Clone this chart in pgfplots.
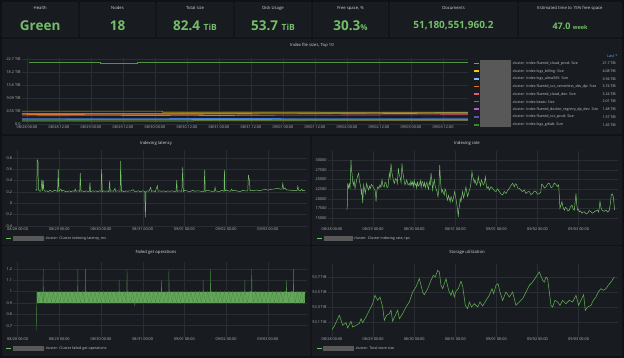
\documentclass[border=0pt]{standalone}
\usepackage{fontspec}
\setmainfont{Open Sans}
\usepackage{pgfplots}
\pgfplotsset{compat=1.18}
\definecolor{bgc}{HTML}{111217}
\definecolor{panelc}{HTML}{181B1F}
\definecolor{borderc}{HTML}{24272E}
\definecolor{gridc}{HTML}{2A2D33}
\definecolor{tickc}{HTML}{B4B6BC}
\definecolor{titlec}{HTML}{D8D9DA}
\definecolor{legc}{HTML}{C4C6CE}
\definecolor{gval}{HTML}{73BF69}
\definecolor{gdark}{HTML}{4A8A42}
\definecolor{redact}{HTML}{585858}
\definecolor{lastc}{HTML}{6E9FFF}
\definecolor{cgreen}{HTML}{5FAE52}
\definecolor{cyellow}{HTML}{F2CC0C}
\definecolor{clblue}{HTML}{8AB8FF}
\definecolor{corange}{HTML}{E0752D}
\definecolor{cred}{HTML}{E35C6B}
\definecolor{cblue}{HTML}{3F78D8}
\definecolor{cpurple}{HTML}{B062C9}
\definecolor{cindigo}{HTML}{6350A8}
\definecolor{cdgreen}{HTML}{37872D}
\definecolor{colive}{HTML}{A89A2A}
\newcommand\fs[1]{\fontsize{#1}{#1}\selectfont}
\pgfplotsset{
  gpanel/.style={scale only axis, axis line style={draw=none}, major tick length=0pt,
    xmajorgrids, ymajorgrids, grid style={gridc,line width=0.35pt},
    scaled y ticks=false, scaled x ticks=false,
    tick label style={font=\fs{3.8}, text=tickc}, xticklabel style={inner sep=1pt},
    yticklabel style={inner sep=1.2pt}, clip=true, anchor=south west},
  daysx/.style={xmin=-0.1, xmax=6.95, xtick={0,1,2,3,4,5,6},
    xticklabels={08/28 00:00,08/29 00:00,08/30 00:00,08/31 00:00,09/01 00:00,09/02 00:00,09/03 00:00}},
}
\newcommand\panel[4]{\fill[panelc,draw=borderc,line width=0.4pt,rounded corners=1.5pt] (#1pt,-#2pt) rectangle (#3pt,-#4pt);}
\begin{document}
\begin{tikzpicture}
\fill[bgc] (0pt,0pt) rectangle (624pt,-358pt);
\useasboundingbox (0pt,0pt) rectangle (624pt,-358pt);
% stat panels
\panel{2.5}{2.5}{78}{37}
\panel{80}{2.5}{155}{37}
\panel{157}{2.5}{233}{37}
\panel{235}{2.5}{311}{37}
\panel{313}{2.5}{388}{37}
\panel{390}{2.5}{517}{37}
\panel{519}{2.5}{621.5}{37}
\node[font=\fs{4.2},text=titlec] at (40.2pt,-8pt) {Health};
\node[font=\fs{4.2},text=titlec] at (117.5pt,-8pt) {Nodes};
\node[font=\fs{4.2},text=titlec] at (195pt,-8pt) {Total size};
\node[font=\fs{4.2},text=titlec] at (273pt,-8pt) {Disk Usage};
\node[font=\fs{4.2},text=titlec] at (350.5pt,-8pt) {Free space, \%};
\node[font=\fs{4.2},text=titlec] at (453.5pt,-8pt) {Documents};
\node[font=\fs{4.2},text=titlec] at (570pt,-8pt) {Estimated time to 15\% free space};
\node[anchor=base,text=gval,font=\fs{13.5}\bfseries] at (40.2pt,-30.7pt) {Green};
\node[anchor=base,text=gval,font=\fs{13.5}\bfseries] at (117.5pt,-30.7pt) {18};
\node[anchor=base,text=gval,font=\fs{13.5}\bfseries] at (195pt,-30.7pt) {82.4 {\fs{8.5}TiB}};
\node[anchor=base,text=gval,font=\fs{13.5}\bfseries] at (273pt,-30.7pt) {53.7 {\fs{8.5}TiB}};
\node[anchor=base,text=gval,font=\fs{13.5}\bfseries] at (350.5pt,-30.7pt) {30.3{\fs{8}\%}};
\node[anchor=base,text=gval,font=\fs{10}\bfseries] at (453.5pt,-28.4pt) {51,180,551,960.2};
\node[anchor=base,text=gval,font=\fs{9}\bfseries] at (570pt,-29.3pt) {47.0 {\fs{5.5}week}};
% big panels
\panel{2.5}{39}{621.5}{134}
\panel{2.5}{136.5}{310}{244.5}
\panel{312}{136.5}{621.5}{244.5}
\panel{2.5}{246.5}{310}{355.5}
\panel{312}{246.5}{621.5}{355.5}
\node[font=\fs{4.2},text=titlec] at (312pt,-45.3pt) {Index file sizes, Top 10};
\node[font=\fs{4.2},text=titlec] at (156pt,-143.5pt) {Indexing latency};
\node[font=\fs{4.2},text=titlec] at (467pt,-143.5pt) {Indexing rate};
\node[font=\fs{4.2},text=titlec] at (156pt,-252.3pt) {Failed get operations};
\node[font=\fs{4.2},text=titlec] at (467pt,-252.3pt) {Storage utilization};
% ---------- top panel
\begin{axis}[gpanel, at={(22pt,-125pt)}, width=446pt, height=66.7pt,
  xmin=-0.078, xmax=6.89, ymin=-0.35, ymax=22.97,
  xtick={0,0.5,...,6.5},
  xticklabels={08/28 00:00,08/28 12:00,08/29 00:00,08/29 12:00,08/30 00:00,08/30 12:00,08/31 00:00,08/31 12:00,09/01 00:00,09/01 12:00,09/02 00:00,09/02 12:00,09/03 00:00,09/03 12:00},
  ytick={0,4.547,9.094,13.64,18.19,22.74},
  yticklabels={0.0,4.55 TiB,9.09 TiB,13.6 TiB,18.2 TiB,22.7 TiB}]
\addplot[colive,line width=0.6pt] coordinates {(-0.08,1.05)(2.6,1.05)(2.6,1.12)(6.89,1.2)};
\addplot[cdgreen,line width=0.6pt] coordinates {(-0.08,1.3)(3.0,1.38)(6.89,1.45)};
\addplot[cindigo,line width=0.6pt] coordinates {(-0.08,1.5)(3.5,1.53)(6.89,1.57)};
\addplot[cpurple,line width=0.6pt] coordinates {(-0.08,1.72)(1.5,1.62)(4.0,1.55)(6.89,1.48)};
\addplot[cblue,line width=0.6pt] coordinates {(-0.08,1.85)(2.0,1.9)(4.5,1.95)(6.89,2.01)};
\addplot[cred,line width=0.6pt] coordinates {(-0.08,2.85)(1.4,2.95)(2.5,3.0)(3.3,2.95)(3.3,3.05)(4.4,3.1)(6.89,3.24)};
\addplot[corange,line width=0.6pt] coordinates {(-0.08,3.3)(2.5,3.4)(4.0,3.55)(6.89,3.74)};
\addplot[clblue,line width=0.6pt] coordinates {(-0.08,3.7)(3.0,3.75)(6.89,3.94)};
\addplot[cyellow!75!black,line width=0.6pt] coordinates {(-0.08,4.5)(2.12,4.5)(2.12,4.1)(6.89,4.08)};
\addplot[cgreen!85!black,line width=0.6pt] coordinates {(0.03,21.6)(1.14,21.6)(1.14,21.3)(1.72,21.3)(1.72,21.7)(2.12,21.7)(2.12,21.45)(6.89,21.45)};
\end{axis}
% top legend
\fill[redact] (480pt,-60pt) rectangle (511pt,-127pt);
\node[anchor=east,font=\fs{3.8},text=lastc] at (621pt,-55.7pt) {Last *};
\foreach \yy/\cc/\tt/\vv in {63.7/cgreen/fluentd\_cloud\_prod/21.7,71.3/cyellow/logs\_billing/4.08,79/clblue/logs\_alma365/3.94,86.7/corange/fluentd\_svc\_serverless\_dev\_dp/3.74,94/cred/fluentd\_cloud\_dev/3.24,101.7/cblue/beats/2.01,109.3/cpurple/fluentd\_docker\_registry\_dp\_dev/1.48,117/cindigo/fluentd\_svc\_prod/1.57,125/cdgreen/logs\_gitlab/1.45}{
  \fill[\cc] (474.3pt,-\yy pt+0.8pt) rectangle (478.5pt,-\yy pt-0.8pt);
  \node[anchor=west,font=\fs{3.6},text=legc,inner sep=0pt] at (511.5pt,-\yy pt) {-cluster: Index \tt: Size};
  \node[anchor=east,font=\fs{3.6},text=legc,inner sep=0pt] at (616pt,-\yy pt) {\vv\ TiB};
}
% ---------- latency
\begin{axis}[gpanel, daysx, at={(13.4pt,-226.5pt)}, width=294pt, height=76.5pt,
  ymin=-0.41, ymax=0.94, ytick={-0.4,-0.2,0,0.2,0.4,0.6,0.8},
  yticklabels={-0.4,-0.2,0,0.2,0.4,0.6,0.8}]
\addplot[gval,line width=0.5pt] coordinates {
(0.43,0.24)(0.46,0.23)(0.472,0.765)(0.49,0.74)(0.50,0.24)(0.512,0.23)(0.54,0.21)(0.56,0.22)(0.584,0.42)(0.60,0.22)(0.616,0.40)(0.63,0.23)(0.66,0.21)(0.70,0.22)(0.74,0.20)(0.78,0.23)(0.82,0.21)(0.85,0.21)(0.88,0.23)(0.92,0.22)(0.96,0.21)(0.976,0.60)(0.99,0.21)(1.02,0.23)(1.04,0.25)(1.06,0.21)(1.09,0.23)(1.12,0.22)(1.16,0.20)(1.20,0.21)(1.24,0.22)(1.28,0.20)(1.32,0.22)(1.36,0.21)(1.384,0.25)(1.40,0.21)(1.45,0.22)(1.49,0.21)(1.504,0.53)(1.52,0.21)(1.56,0.22)(1.60,0.20)(1.64,0.22)(1.68,0.21)(1.72,0.21)(1.736,0.365)(1.75,0.20)(1.80,0.22)(1.84,0.21)(1.88,0.22)(1.92,0.20)(1.96,0.22)(2.00,0.21)(2.016,0.60)(2.03,0.20)(2.06,0.22)(2.10,0.21)(2.15,0.22)(2.19,0.20)(2.208,0.395)(2.22,0.21)(2.26,0.22)(2.30,0.21)(2.336,0.265)(2.35,0.21)(2.40,0.22)(2.46,0.21)(2.472,0.75)(2.49,0.21)(2.52,0.22)(2.56,0.20)(2.60,0.22)(2.64,0.21)(2.68,0.22)(2.72,0.22)(2.776,0.24)(2.80,0.21)(2.85,0.21)(2.90,0.22)(2.95,0.20)(3.00,0.22)(3.05,0.21)(3.064,-0.25)(3.08,0.21)(3.12,0.22)(3.15,0.21)(3.192,0.28)(3.21,0.21)(3.25,0.22)(3.30,0.20)(3.352,0.31)(3.37,0.21)(3.41,0.22)(3.45,0.21)(3.50,0.22)(3.55,0.20)(3.60,0.22)(3.65,0.21)(3.70,0.22)(3.75,0.21)(3.80,0.21)(3.816,0.41)(3.83,0.21)(3.88,0.22)(3.94,0.21)(3.96,0.635)(3.975,0.21)(4.01,0.23)(4.05,0.22)(4.10,0.21)(4.15,0.21)(4.20,0.23)(4.25,0.21)(4.30,0.22)(4.35,0.22)(4.40,0.21)(4.47,0.21)(4.488,0.59)(4.50,0.21)(4.55,0.23)(4.60,0.22)(4.66,0.21)(4.72,0.21)(4.736,0.28)(4.75,0.22)(4.80,0.21)(4.85,0.21)(4.90,0.23)(4.95,0.21)(4.96,0.59)(4.975,0.22)(5.01,0.23)(5.05,0.22)(5.10,0.21)(5.136,0.25)(5.15,0.22)(5.20,0.23)(5.25,0.22)(5.30,0.21)(5.35,0.21)(5.40,0.23)(5.45,0.22)(5.52,0.22)(5.536,0.50)(5.55,0.43)(5.56,0.42)(5.575,0.22)(5.61,0.23)(5.65,0.22)(5.70,0.23)(5.75,0.23)(5.80,0.22)(5.85,0.23)(5.90,0.24)(5.976,0.24)(6.01,0.23)(6.05,0.24)(6.10,0.25)(6.15,0.25)(6.20,0.26)(6.25,0.26)(6.30,0.25)(6.34,0.25)(6.36,0.35)(6.38,0.25)(6.416,0.27)(6.44,0.24)(6.50,0.23)(6.55,0.23)(6.60,0.22)(6.65,0.23)(6.70,0.22)(6.72,0.30)(6.74,0.23)(6.78,0.22)(6.816,0.25)(6.84,0.22)(6.87,0.23)(6.896,0.22)};
\end{axis}
% ---------- rate
\begin{axis}[gpanel, daysx, at={(327.9pt,-226.5pt)}, width=289.7pt, height=75.8pt,
  ymin=12900, ymax=32400, ytick={15000,17500,20000,22500,25000,27500,30000},
  yticklabels={15000,17500,20000,22500,25000,27500,30000}]
\addplot[gval,line width=0.5pt] coordinates {
(0.357,17300)(0.37,17500)(0.381,24000)(0.40,22800)(0.422,23900)(0.44,22600)(0.462,30000)(0.475,27200)(0.487,26600)(0.50,24800)(0.519,23600)(0.54,24600)(0.560,22700)(0.58,23800)(0.600,24900)(0.62,25800)(0.649,26600)(0.665,24600)(0.681,24000)(0.70,23000)(0.714,21400)(0.73,22400)(0.746,18900)(0.76,21500)(0.770,23600)(0.79,22600)(0.811,21400)(0.83,23000)(0.843,24000)(0.87,22800)(0.892,22300)(0.91,23300)(0.933,22700)(0.96,23700)(0.989,23300)(1.02,22700)(1.046,22300)(1.06,21400)(1.071,19300)(1.09,22000)(1.111,23100)(1.14,22700)(1.168,23600)(1.19,23000)(1.217,24900)(1.24,23400)(1.273,23100)(1.29,24300)(1.314,24000)(1.34,22900)(1.363,23100)(1.38,25000)(1.395,26600)(1.415,25400)(1.436,29100)(1.455,26900)(1.476,25700)(1.50,24500)(1.517,24000)(1.545,25200)(1.573,24900)(1.59,24000)(1.614,27900)(1.635,26200)(1.654,25700)(1.68,24200)(1.703,29100)(1.72,27000)(1.736,26100)(1.756,24700)(1.776,23600)(1.80,24300)(1.817,24900)(1.85,23600)(1.882,24000)(1.90,23400)(1.92,24600)(1.94,23600)(1.963,24400)(1.98,23200)(2.00,24800)(2.02,23500)(2.044,24000)(2.06,22800)(2.08,24300)(2.10,23300)(2.125,23600)(2.15,24700)(2.17,23000)(2.19,24500)(2.206,24400)(2.23,23200)(2.25,24200)(2.27,22900)(2.287,23600)(2.31,24300)(2.328,23100)(2.35,22500)(2.368,24400)(2.39,23600)(2.409,26600)(2.43,24800)(2.449,22300)(2.47,23900)(2.490,24900)(2.51,23300)(2.530,22700)(2.555,21900)(2.579,20600)(2.60,22400)(2.620,28700)(2.636,25600)(2.652,23100)(2.67,21700)(2.693,22300)(2.71,21500)(2.733,21000)(2.75,22600)(2.774,21900)(2.79,20700)(2.814,19700)(2.835,20900)(2.855,20100)(2.875,19200)(2.895,20600)(2.915,20000)(2.936,19300)(2.96,20600)(2.985,21900)(3.01,20400)(3.033,18900)(3.05,17600)(3.074,15400)(3.085,17200)(3.098,18000)(3.12,20100)(3.139,19300)(3.16,20800)(3.179,21900)(3.20,20300)(3.220,21000)(3.24,22100)(3.260,23100)(3.28,21600)(3.301,20600)(3.33,21800)(3.358,22700)(3.38,24000)(3.406,27000)(3.42,25900)(3.439,25300)(3.46,24200)(3.479,24900)(3.50,24000)(3.520,23600)(3.54,24300)(3.560,25700)(3.58,24400)(3.601,24000)(3.615,23300)(3.633,24900)(3.66,24200)(3.682,23600)(3.71,24100)(3.731,25700)(3.75,24000)(3.771,22700)(3.80,23200)(3.828,22300)(3.87,23100)(3.909,22700)(3.95,22100)(3.990,21900)(4.03,22600)(4.071,21900)(4.11,21300)(4.152,21000)(4.19,21900)(4.234,21400)(4.27,22100)(4.315,22700)(4.35,23400)(4.396,24000)(4.436,23100)(4.46,23900)(4.493,23600)(4.52,22800)(4.558,22700)(4.60,22200)(4.639,21900)(4.68,22300)(4.720,21400)(4.76,21800)(4.801,21900)(4.84,21100)(4.882,21400)(4.92,22000)(4.964,21900)(5.00,21200)(5.045,21400)(5.08,21700)(5.10,23800)(5.126,23600)(5.17,22800)(5.207,23100)(5.25,23900)(5.288,24000)(5.33,22900)(5.369,23100)(5.41,24100)(5.450,23700)(5.48,23200)(5.515,23600)(5.53,21000)(5.547,17600)(5.57,18300)(5.596,19300)(5.62,17900)(5.653,17100)(5.68,17800)(5.710,17600)(5.74,16900)(5.774,17100)(5.80,17900)(5.839,18400)(5.87,17400)(5.896,17100)(5.915,19000)(5.937,21400)(5.955,18600)(5.977,17100)(6.00,17300)(6.018,16700)(6.05,16900)(6.083,16300)(6.11,16600)(6.140,16700)(6.18,16200)(6.221,16300)(6.26,17000)(6.302,16700)(6.34,16300)(6.383,16700)(6.42,16900)(6.464,17100)(6.49,16600)(6.521,19300)(6.545,17800)(6.569,17100)(6.62,16800)(6.667,17100)(6.71,16600)(6.748,17100)(6.77,18500)(6.796,21000)(6.82,21300)(6.845,20600)(6.877,17100)};
\end{axis}
% ---------- failed get operations
\begin{axis}[gpanel, daysx, at={(13.4pt,-337pt)}, width=294pt, height=75.3pt,
  ymin=0.6, ymax=1.264, ytick={0.7,0.8,0.9,1,1.1,1.2},
  yticklabels={0.7,0.8,0.9,1,1.1,1.2}]
\addplot[fill=gval,fill opacity=0.85,draw=none] coordinates {(0.46,0.9)(6.90,0.9)(6.90,1.0)(0.46,1.0)} -- cycle;
\addplot[gdark,line width=0.35pt] coordinates {
(0.455,0.66)(0.46,1)(0.51,0.9)(0.56,1)(0.61,0.9)(0.615,1.2)(0.62,0.9)(0.66,1)(0.71,0.9)(0.76,1)(0.81,0.9)(0.86,1)(0.91,0.9)(0.96,1)(1.01,0.9)(1.06,1)(1.11,0.9)(1.16,1)(1.21,0.9)(1.26,1)(1.31,0.9)(1.36,1)(1.41,0.9)(1.44,1.0)(1.445,1.2)(1.45,1.0)(1.46,1)(1.51,0.9)(1.56,1)(1.61,0.9)(1.62,1.0)(1.625,1.2)(1.63,1.0)(1.66,1)(1.71,0.9)(1.76,1)(1.81,0.9)(1.86,1)(1.91,0.9)(1.96,1)(2.01,0.9)(2.06,1)(2.11,0.9)(2.16,1)(2.21,0.9)(2.26,1)(2.31,0.9)(2.36,1)(2.41,0.9)(2.43,1.0)(2.435,1.1)(2.44,1.0)(2.46,1)(2.51,0.9)(2.56,1)(2.61,0.9)(2.62,1.0)(2.625,1.2)(2.63,1.0)(2.66,1)(2.71,0.9)(2.76,1)(2.81,0.88)(2.86,1)(2.91,0.9)(2.96,1)(3.01,0.9)(3.06,1)(3.11,0.9)(3.16,1)(3.21,0.9)(3.26,1)(3.31,0.9)(3.36,1)(3.41,0.9)(3.445,1.0)(3.45,1.1)(3.455,1.0)(3.46,1)(3.51,0.9)(3.56,1)(3.61,0.9)(3.625,1.0)(3.63,1.2)(3.635,1.0)(3.66,1)(3.71,0.9)(3.76,1)(3.81,0.9)(3.86,1)(3.91,0.9)(3.96,1)(4.01,0.9)(4.06,1)(4.11,0.9)(4.16,1)(4.21,0.9)(4.26,1)(4.31,0.9)(4.36,1)(4.41,0.9)(4.445,1.0)(4.45,1.1)(4.455,1.0)(4.46,1)(4.51,0.9)(4.56,1)(4.61,0.9)(4.62,1.0)(4.625,1.2)(4.63,1.0)(4.66,1)(4.71,0.9)(4.76,1)(4.81,0.9)(4.86,1)(4.91,0.9)(4.96,1)(5.01,0.9)(5.06,1)(5.11,0.9)(5.16,1)(5.21,0.9)(5.26,1)(5.31,0.9)(5.36,1)(5.41,0.9)(5.445,1.0)(5.45,1.1)(5.455,1.0)(5.46,1)(5.51,0.9)(5.56,1)(5.61,1.0)(5.615,1.2)(5.62,1.0)(5.66,0.9)(5.71,1)(5.76,0.9)(5.81,1)(5.86,0.9)(5.91,1)(5.96,0.9)(6.01,1)(6.06,0.9)(6.11,1)(6.16,0.9)(6.21,1)(6.26,0.9)(6.31,1)(6.36,0.9)(6.41,1)(6.445,1.0)(6.45,1.1)(6.455,1.0)(6.51,0.9)(6.56,1)(6.61,1.0)(6.615,1.2)(6.62,1.0)(6.66,0.9)(6.71,1)(6.76,0.9)(6.81,1)(6.86,0.9)(6.90,1)};
\end{axis}
% ---------- storage utilization
\begin{axis}[gpanel, daysx, at={(327.9pt,-337pt)}, width=289.7pt, height=73.5pt,
  ymin=52.9, ymax=53.88, ytick={53.1,53.3,53.5,53.7},
  yticklabels={53.1 TiB,53.3 TiB,53.5 TiB,53.7 TiB}]
\addplot[cgreen,line width=0.55pt] coordinates {
(0.0,53.0)(0.057,53.047)(0.178,53.189)(0.26,53.056)(0.341,53.091)(0.381,53.02)(0.462,53.109)(0.503,53.033)(0.584,53.056)(0.665,53.082)(0.706,53.144)(0.746,53.091)(0.827,53.167)(0.908,53.256)(0.989,53.344)(1.046,53.456)(1.111,53.389)(1.168,53.433)(1.233,53.3)(1.273,53.122)(1.33,53.189)(1.395,53.211)(1.436,53.256)(1.476,53.109)(1.541,53.189)(1.598,53.256)(1.638,53.144)(1.719,53.211)(1.8,53.3)(1.882,53.367)(1.963,53.5)(2.044,53.567)(2.125,53.678)(2.206,53.5)(2.247,53.464)(2.328,53.544)(2.409,53.656)(2.466,53.722)(2.514,53.7)(2.571,53.789)(2.612,53.767)(2.652,53.589)(2.693,53.544)(2.733,53.611)(2.774,53.678)(2.839,53.522)(2.895,53.456)(2.936,53.522)(2.976,53.433)(3.017,53.509)(3.074,53.544)(3.139,53.642)(3.179,53.58)(3.244,53.322)(3.301,53.278)(3.341,53.367)(3.398,53.3)(3.463,53.344)(3.544,53.3)(3.601,53.367)(3.666,53.313)(3.747,53.389)(3.828,53.456)(3.893,53.544)(3.934,53.478)(3.99,53.589)(4.039,53.611)(4.088,53.5)(4.152,53.389)(4.234,53.5)(4.315,53.433)(4.396,53.5)(4.477,53.322)(4.558,53.367)(4.639,53.411)(4.72,53.5)(4.801,53.589)(4.882,53.633)(4.964,53.7)(5.045,53.767)(5.126,53.656)(5.166,53.633)(5.207,53.7)(5.247,53.678)(5.328,53.322)(5.369,53.3)(5.426,53.389)(5.491,53.367)(5.547,53.322)(5.612,53.389)(5.693,53.344)(5.774,53.389)(5.856,53.367)(5.937,53.456)(6.002,53.322)(6.058,53.389)(6.123,53.464)(6.164,53.256)(6.221,53.3)(6.302,53.322)(6.358,53.389)(6.423,53.433)(6.488,53.509)(6.545,53.544)(6.602,53.522)(6.667,53.544)(6.723,53.589)(6.788,53.633)(6.869,53.7)};
\end{axis}
% small legends
\fill[gval] (6pt,-237.7pt) rectangle (10.8pt,-239.1pt);
\fill[redact] (13.3pt,-235.6pt) rectangle (44.3pt,-241pt);
\node[anchor=west,font=\fs{3.6},text=legc,inner sep=0pt] at (44.5pt,-238.4pt) {-cluster: Cluster indexing latency, ms};
\fill[gval] (317pt,-237.7pt) rectangle (321.8pt,-239.1pt);
\fill[redact] (323.7pt,-235.8pt) rectangle (352.7pt,-241.4pt);
\node[anchor=west,font=\fs{3.6},text=legc,inner sep=0pt] at (353pt,-238.5pt) {-cluster: Cluster indexing rate, rps};
\fill[gval] (6pt,-347.6pt) rectangle (10.8pt,-349pt);
\fill[redact] (13.3pt,-345.6pt) rectangle (44.3pt,-351pt);
\node[anchor=west,font=\fs{3.6},text=legc,inner sep=0pt] at (44.5pt,-348.3pt) {-cluster: Cluster failed get operations};
\fill[gval] (317pt,-347.6pt) rectangle (321.8pt,-349pt);
\fill[redact] (322.7pt,-345.6pt) rectangle (354.3pt,-351pt);
\node[anchor=west,font=\fs{3.6},text=legc,inner sep=0pt] at (354.5pt,-348.3pt) {-cluster: Total store size};
\end{tikzpicture}
\end{document}
